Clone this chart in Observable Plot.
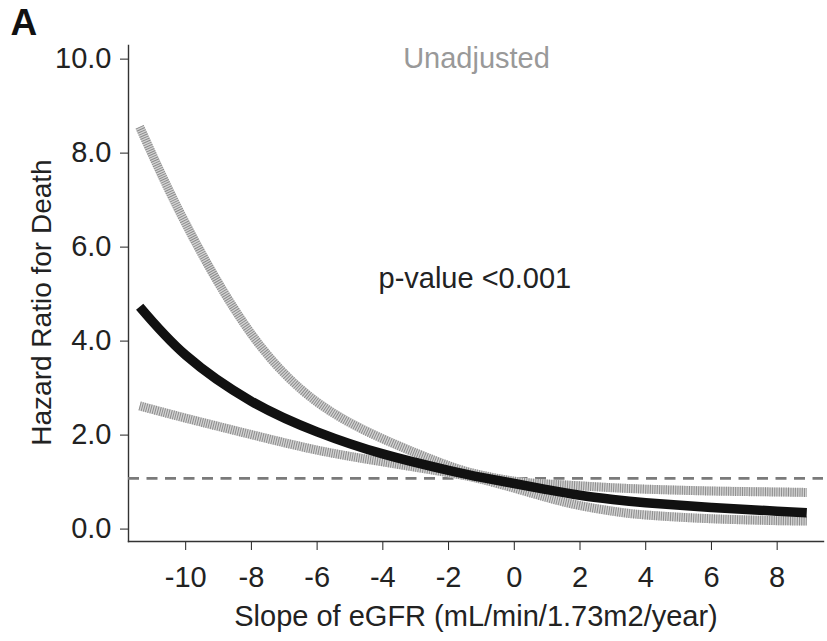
<!DOCTYPE html>
<html>
<head>
<meta charset="utf-8">
<script src="https://cdn.jsdelivr.net/npm/d3@7"></script>
<script src="https://cdn.jsdelivr.net/npm/@observablehq/plot@0.6"></script>
<style>
  html, body { margin: 0; padding: 0; background: #fff; }
  #chart svg { display: block; }
</style>
</head>
<body>
<div id="chart"></div>
<script>
// eGFR slope (mL/min/1.73m2/year) and the unadjusted hazard ratio for death
const slope   = [-11.4, -10, -8, -6, -4, -2, -1, 0, 1, 2, 3, 4, 6, 8, 8.9];
const hr      = [4.73, 3.70, 2.72, 2.07, 1.60, 1.25, 1.10, 0.97, 0.84, 0.72, 0.63, 0.56, 0.46, 0.38, 0.35];
const hrLower = [2.62, 2.36, 2.01, 1.68, 1.43, 1.20, 1.06, 0.87, 0.67, 0.50, 0.38, 0.30, 0.22, 0.18, 0.17];
const hrUpper = [8.56, 6.50, 4.15, 2.70, 1.92, 1.35, 1.15, 1.02, 0.96, 0.92, 0.88, 0.85, 0.81, 0.79, 0.78];
const refLine = [1.08];
const xTicks  = [-10, -8, -6, -4, -2, 0, 2, 4, 6, 8];
const yTicks  = [0, 2, 4, 6, 8, 10];
const panelLabel = "A";
const modelLabel = "Unadjusted";
const pLabel = "p-value <0.001";
const xTitle = "Slope of eGFR (mL/min/1.73m2/year)";
const yTitle = "Hazard Ratio for Death";

const rows = slope.map((s, i) => ({slope: s, hr: hr[i], lo: hrLower[i], hi: hrUpper[i]}));

const font = "'Liberation Sans', Arial, Helvetica, sans-serif";
const curve = "natural";

// confidence bounds: light grey band with fine darker hatching on top
const ciBase = {x: "slope", curve, stroke: "#d4d4d4", strokeWidth: 9, strokeLinecap: "butt"};
const ciHatch = {x: "slope", curve, stroke: "#8c8c8c", strokeWidth: 9, strokeLinecap: "butt", strokeDasharray: "1,1.3"};

const chart = Plot.plot({
  width: 827,
  height: 641,
  marginLeft: 128,
  marginRight: 4,
  marginTop: 45,
  marginBottom: 100,
  style: {fontFamily: font, fontSize: "29px", color: "#222", background: "#fff"},
  x: {
    domain: [-11.74, 9.41],
    ticks: xTicks,
    tickFormat: d => `${d}`,
    tickSize: 9,
    tickPadding: 16,
    label: null
  },
  y: {
    domain: [-0.264, 10.29],
    ticks: yTicks,
    tickFormat: d3.format(".1f"),
    tickSize: 8,
    tickPadding: 9,
    label: null
  },
  marks: [
    Plot.frame({anchor: "left", stroke: "#333", strokeWidth: 1.4}),
    Plot.frame({anchor: "bottom", stroke: "#333", strokeWidth: 1.4}),
    Plot.ruleY(refLine, {stroke: "#7a7a7a", strokeWidth: 2.6, strokeDasharray: "11,7.5"}),
    Plot.line(rows, {...ciBase, y: "hi"}),
    Plot.line(rows, {...ciHatch, y: "hi"}),
    Plot.line(rows, {...ciBase, y: "lo"}),
    Plot.line(rows, {...ciHatch, y: "lo"}),
    Plot.line(rows, {x: "slope", y: "hr", curve, stroke: "#111", strokeWidth: 9.5, strokeLinecap: "butt"}),
    Plot.text([modelLabel], {x: -1.15, y: 9.82, text: d => d, fill: "#999", fontSize: 29, lineAnchor: "bottom"}),
    Plot.text([pLabel], {x: -1.2, y: 5.14, text: d => d, fill: "#222", fontSize: 29, lineAnchor: "bottom"}),
    Plot.text([xTitle], {frameAnchor: "bottom", dy: 84, text: d => d, fill: "#222", fontSize: 29, lineAnchor: "bottom"}),
    Plot.text([yTitle], {frameAnchor: "left", dx: -86, dy: 9, rotate: -90, textAnchor: "middle",
      text: d => d, fill: "#222", fontSize: 28, lineAnchor: "middle"}),
    Plot.text([panelLabel], {frameAnchor: "top-left", dx: -118, dy: -37, text: d => d, fill: "#111",
      fontSize: 37, fontWeight: "bold", textAnchor: "start", lineAnchor: "top"})
  ]
});

document.getElementById("chart").appendChild(chart);
</script>
</body>
</html>
